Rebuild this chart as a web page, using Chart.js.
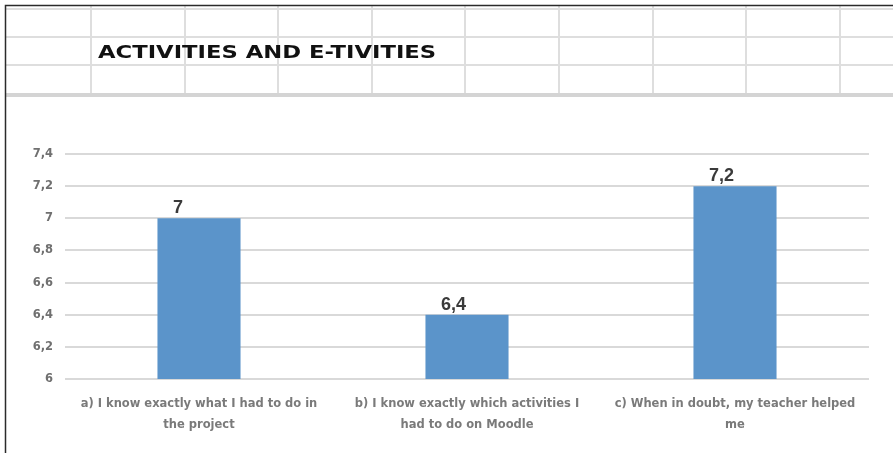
<!DOCTYPE html>
<html>
<head>
<meta charset="utf-8">
<script src="https://cdn.jsdelivr.net/npm/chart.js@4.4.1/dist/chart.umd.min.js"></script>
<style>
    html, body { margin: 0; padding: 0; background: #fff; }
    #wrap { position: relative; width: 893px; height: 453px; overflow: hidden; }
    #chart { position: absolute; left: 0; top: 0; }
    #sheetTitle {
        position: absolute;
        left: 98px;
        top: 43px;
        font: bold 18px "DejaVu Sans", sans-serif;
        line-height: 18px;
        color: #111;
        white-space: nowrap;
        transform: scaleX(1.26);
        transform-origin: 0 0;
    }
</style>
</head>
<body>
<div id="wrap">
    <canvas id="chart" width="893" height="453"></canvas>
    <div id="sheetTitle">ACTIVITIES AND E-TIVITIES</div>
</div>
<script>
// values read from the sheet
const categories = [
    ["a) I know exactly what I had to do in", "the project"],
    ["b) I know exactly which activities I", "had to do on Moodle"],
    ["c) When in doubt, my teacher helped", "me"],
];
const scores = [7, 6.4, 7.2];
const yTicks = [6, 6.2, 6.4, 6.6, 6.8, 7, 7.2, 7.4];

const commaNum = (v) => String(Math.round(v * 10) / 10).replace('.', ',');

// spreadsheet cells behind the chart object
const sheetGrid = {
    id: 'sheetGrid',
    beforeDraw(chart) {
        const ctx = chart.ctx;
        ctx.save();
        ctx.fillStyle = '#ffffff';
        ctx.fillRect(0, 0, chart.width, chart.height);

        ctx.strokeStyle = '#dedede';
        ctx.lineWidth = 2;
        for (const y of [9, 37, 65]) {
            ctx.beginPath();
            ctx.moveTo(5, y);
            ctx.lineTo(chart.width, y);
            ctx.stroke();
        }
        for (const x of [91, 185, 278, 372, 465, 559, 653, 746, 840]) {
            ctx.beginPath();
            ctx.moveTo(x, 6);
            ctx.lineTo(x, 94);
            ctx.stroke();
        }
        ctx.strokeStyle = '#d4d4d4';
        ctx.lineWidth = 4;
        ctx.beginPath();
        ctx.moveTo(5, 95);
        ctx.lineTo(chart.width, 95);
        ctx.stroke();

        ctx.strokeStyle = '#2b2b2b';
        ctx.lineWidth = 1.5;
        ctx.beginPath();
        ctx.moveTo(5.5, chart.height);
        ctx.lineTo(5.5, 5.5);
        ctx.lineTo(chart.width, 5.5);
        ctx.stroke();
        ctx.restore();
    }
};

// value labels above the bars (the sheet starts them a bit left of centre)
const barValues = {
    id: 'barValues',
    afterDatasetsDraw(chart) {
        const ctx = chart.ctx;
        const meta = chart.getDatasetMeta(0);
        ctx.save();
        ctx.font = 'bold 18px "Liberation Sans", sans-serif';
        ctx.fillStyle = '#3a3a3a';
        ctx.textAlign = 'left';
        ctx.textBaseline = 'alphabetic';
        meta.data.forEach((bar, i) => {
            ctx.fillText(commaNum(chart.data.datasets[0].data[i]), bar.x - 26, bar.y - 5);
        });
        ctx.restore();
    }
};

new Chart(document.getElementById('chart'), {
    type: 'bar',
    data: {
        labels: categories,
        datasets: [{
            data: scores,
            backgroundColor: '#5b94ca',
            borderWidth: 0,
            barPercentage: 0.31,
            categoryPercentage: 1,
        }]
    },
    options: {
        responsive: false,
        animation: false,
        events: [],
        layout: {
            padding: { top: 154, right: 24, bottom: 0, left: 0 }
        },
        scales: {
            y: {
                min: 6,
                max: 7.4,
                afterBuildTicks: (scale) => {
                    scale.ticks = yTicks.map((v) => ({ value: v }));
                },
                afterFit: (scale) => { scale.width = 65; },
                border: { display: false },
                grid: {
                    color: '#d9d9d9',
                    lineWidth: 2,
                    drawTicks: false,
                },
                ticks: {
                    padding: 12,
                    color: '#707070',
                    font: { family: 'DejaVu Sans', size: 11.5, weight: 'bold' },
                    callback: (v) => commaNum(v),
                }
            },
            x: {
                afterFit: (scale) => { scale.height = 74; },
                border: { display: false },
                grid: { display: false, drawTicks: false },
                ticks: {
                    padding: 14,
                    maxRotation: 0,
                    autoSkip: false,
                    color: '#7a7a7a',
                    font: { family: 'DejaVu Sans', size: 11.5, weight: 'bold', lineHeight: 1.85 },
                }
            }
        },
        plugins: {
            legend: { display: false },
            title: { display: false },
            tooltip: { enabled: false },
        }
    },
    plugins: [sheetGrid, barValues]
});
</script>
</body>
</html>
